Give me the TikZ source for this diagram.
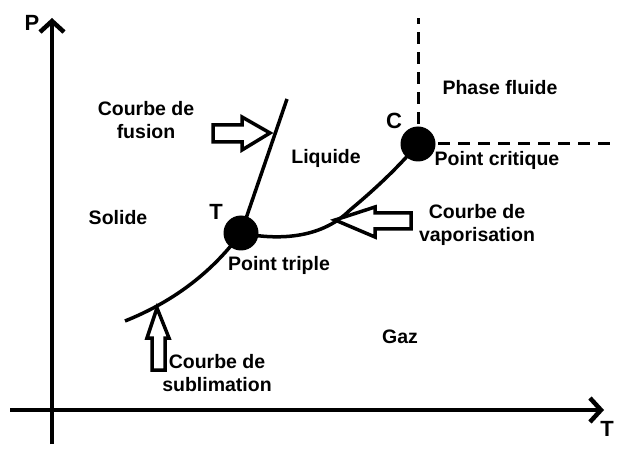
\documentclass[tikz,border=0pt]{standalone}
\usepackage{fontspec}
\setmainfont{Liberation Sans}
\usetikzlibrary{arrows.meta}
\begin{document}
\begin{tikzpicture}[x=1pt,y=-1pt,
  lbl/.style={font=\bfseries\fontsize{19.5}{23}\selectfont,align=center,inner sep=0pt},
  big/.style={font=\bfseries\fontsize{22}{24}\selectfont,inner sep=0pt},
  axis/.style={line width=4.5pt,-{Straight Barb[length=11pt,width=24pt,line width=4.5pt]}},
  curve/.style={line width=3.5pt},
  dsh/.style={line width=3pt,dash pattern=on 12pt off 8pt},
  blk/.style={line width=3.5pt,fill=white,line join=miter},
  dot/.style={circle,fill=black,minimum size=35pt,inner sep=0pt}]
\useasboundingbox (0,0) rectangle (624,457);
% axes
\coordinate (pb) at (52,444);
\coordinate (pt) at (52,18);
\coordinate (tl) at (10,410);
\coordinate (tr) at (604,410);
\draw[axis] (pb) -- (pt);
\draw[axis] (tl) -- (tr);
\node[big] (P) at (32,23) {P};
\node[big] (Tax) at (607,429) {T};
% points
\node[dot] (Tp) at (241,233) {};
\node[dot] (Cp) at (418,144) {};
\coordinate (fusEnd) at (287,99);
\coordinate (subEnd) at (125,321);
\coordinate (dv) at (418,18);
\coordinate (dh) at (614,144);
% dashed
\draw[dsh] (Cp.center) -- (dv);
\draw[dsh] (Cp.center) -- (dh);
% curves
\draw[curve] (Tp.center) -- (fusEnd);
\draw[curve] (subEnd) .. controls (170,303) and (210,275) .. (Tp.center);
\draw[curve] (Tp.center) .. controls (275,240) and (320,240) .. (350,210)
  .. controls (380,185) and (400,165) .. (Cp.center);
% block arrows
\draw[blk] (213,125) -- (242,125) -- (242,117) -- (270,133) -- (242,150) -- (242,142) -- (213,142) -- cycle;
\draw[blk] (411,213) -- (375,213) -- (375,207) -- (335,220) -- (375,237) -- (375,229) -- (411,229) -- cycle;
\draw[blk] (152,370) -- (152,338) -- (147,338) -- (157,308) -- (169,338) -- (165,338) -- (165,370) -- cycle;
% labels
\node[lbl] (pf) at (500,88) {Phase fluide};
\node[big] (Cl) at (394,121) {C};
\node[lbl] (pc) at (497,160) {Point critique};
\node[lbl] (liq) at (326,158) {Liquide};
\node[lbl] (sol) at (118,218) {Solide};
\node[big] (Tl) at (216,212) {T};
\node[lbl] (ptr) at (279,265) {Point triple};
\node[lbl] (gaz) at (400,337) {Gaz};
\node[lbl] (cf) at (146,120) {Courbe de\\fusion};
\node[lbl] (cv) at (477,225) {Courbe de\\vaporisation};
\node[lbl] (cs) at (217,373) {Courbe de\\sublimation};
\end{tikzpicture}
\end{document}
